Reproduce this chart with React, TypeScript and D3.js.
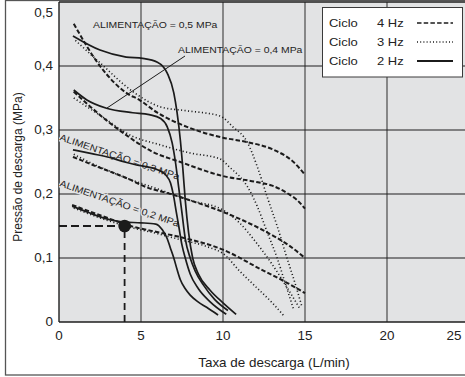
import React from "react";
import * as d3 from "d3";

type Pt = [number, number];

// Ciclo 2 Hz (linha cheia)
const solid02: Pt[] = [[0.8,0.181],[1.8,0.171],[2.8,0.162],[4,0.156],[5,0.155],[5.9,0.153],[6.3,0.144],[6.6,0.13],[6.8,0.115],[7.0,0.1],[7.2,0.082],[7.4,0.066],[7.7,0.052],[8,0.042],[8.5,0.031],[9,0.023],[9.7,0.011]];
const solid03: Pt[] = [[0.85,0.269],[2,0.263],[3.1,0.257],[4,0.25],[4.8,0.245],[6,0.238],[6.5,0.23],[6.8,0.217],[7.0,0.195],[7.15,0.172],[7.3,0.15],[7.5,0.12],[7.7,0.1],[8.0,0.075],[8.5,0.052],[9.2,0.032],[10.2,0.012]];
const solid04: Pt[] = [[0.9,0.3625],[1.7,0.347],[2.9,0.334],[4.5,0.327],[5.5,0.324],[6.2,0.318],[6.6,0.305],[6.9,0.28],[7.1,0.25],[7.3,0.21],[7.5,0.17],[7.7,0.13],[8.0,0.1],[8.3,0.08],[8.8,0.058],[9.5,0.035],[10.3,0.018]];
const solid05: Pt[] = [[0.85,0.447],[2.5,0.425],[4.1,0.414],[5.1,0.412],[6,0.406],[6.6,0.389],[7.0,0.358],[7.2,0.327],[7.4,0.284],[7.55,0.24],[7.7,0.19],[7.9,0.14],[8.15,0.1],[8.5,0.075],[9.2,0.05],[10,0.03],[10.8,0.012]];

// Ciclo 4 Hz (tracejado)
const dash02: Pt[] = [[0.8,0.183],[2.8,0.164],[4.5,0.149],[5.9,0.141],[7.5,0.132],[10,0.113],[12.4,0.081],[14,0.06],[15,0.045]];
const dash03: Pt[] = [[0.85,0.258],[2.1,0.245],[4.1,0.225],[5.4,0.21],[6.8,0.2],[8,0.19],[10,0.172],[12.4,0.144],[14,0.12],[15,0.1]];
const dash04: Pt[] = [[0.9,0.36],[2.9,0.315],[4.1,0.292],[5.7,0.266],[7.4,0.25],[10,0.228],[12,0.219],[13,0.213],[14,0.2],[14.5,0.191],[15,0.177]];
const dash05: Pt[] = [[0.9,0.466],[2.5,0.4],[4.1,0.358],[4.9,0.347],[6,0.327],[8,0.303],[10,0.288],[11.5,0.281],[13,0.27],[14.3,0.25],[15,0.23]];

// Ciclo 3 Hz (pontilhado)
const dot02: Pt[] = [[0.9,0.178],[2.8,0.16],[4.5,0.147],[6,0.138],[7.5,0.128],[9,0.118],[10.1,0.105],[11,0.08],[12,0.055],[13,0.03],[13.7,0.01]];
const dot03: Pt[] = [[0.9,0.262],[2,0.248],[4,0.226],[6,0.208],[8,0.19],[10,0.175],[11,0.155],[12,0.125],[13,0.09],[14,0.05],[14.7,0.02]];
const dot04: Pt[] = [[0.9,0.35],[2.5,0.323],[4.5,0.29],[6,0.278],[8,0.264],[9.8,0.255],[10.4,0.242],[11.5,0.211],[12.1,0.18],[12.7,0.14],[13.3,0.1],[13.8,0.06],[14.3,0.02]];
const dot05: Pt[] = [[1,0.44],[2.5,0.405],[4.5,0.36],[6.2,0.336],[7.8,0.33],[9.8,0.322],[10.6,0.305],[11.5,0.28],[12.1,0.242],[12.7,0.195],[13.3,0.15],[13.9,0.1],[14.4,0.06],[14.8,0.025]];

const solidSeries = [solid02, solid03, solid04, solid05];
const dashSeries = [dash02, dash03, dash04, dash05];
const dotSeries = [dot02, dot03, dot04, dot05];

const xTicks = [0, 5, 10, 15, 20, 25];
const yTicks = [0, 0.1, 0.2, 0.3, 0.4, 0.5];
const yTickLabels = ["0", "0,1", "0,2", "0,3", "0,4", "0,5"];

const legendRows = [
  { ciclo: "Ciclo", freq: "4 Hz", style: "dash" },
  { ciclo: "Ciclo", freq: "3 Hz", style: "dot" },
  { ciclo: "Ciclo", freq: "2 Hz", style: "solid" },
];

// ponto de exemplo
const examplePoint: Pt = [4, 0.15];

const W = 465;
const H = 377;
const FONT = "'Liberation Sans', Arial, Helvetica, sans-serif";
const INK = "#1b1b1b";
const BG = "#e2e3e4";

const x = d3.scaleLinear().domain([0, 25]).range([59, 59 + 25 * 16.4]);
const y = d3.scaleLinear().domain([0, 0.5]).range([322, 2]);

const line = d3
  .line<Pt>()
  .x((d) => x(d[0]))
  .y((d) => y(d[1]))
  .curve(d3.curveMonotoneX);

const styles: Record<string, { dash?: string; width: number; cap: string }> = {
  solid: { width: 1.7, cap: "butt" },
  dash: { dash: "4.5 2.2", width: 2, cap: "butt" },
  dot: { dash: "1.1 2.4", width: 1.6, cap: "butt" },
};

const SX = 1.12;

function T(props: {
  x: number;
  y: number;
  size: number;
  anchor?: "start" | "middle" | "end";
  children: React.ReactNode;
  fill?: string;
}) {
  return (
    <text
      transform={`translate(${props.x},${props.y}) scale(${SX},1)`}
      fontSize={props.size}
      fontFamily={FONT}
      textAnchor={props.anchor ?? "start"}
      fill={props.fill ?? "#222"}
    >
      {props.children}
    </text>
  );
}

export default function App() {
  const plotL = x(0);
  const plotR = 470;
  const plotT = y(0.5);
  const plotB = y(0);

  return (
    <svg
      width={W}
      height={H}
      style={{ position: "absolute", left: 0, top: 0, background: "#fff" }}
    >
      <defs>
        <clipPath id="plotClip">
          <rect x={plotL} y={plotT} width={plotR - plotL} height={plotB - plotT} />
        </clipPath>
      </defs>

      {/* outer frame */}
      <rect x={5.5} y={0.5} width={480} height={374.5} fill="#fff" stroke="#555" strokeWidth={1.3} />

      {/* plot background */}
      <rect x={plotL} y={plotT} width={plotR - plotL} height={plotB - plotT} fill={BG} />

      {/* vertical grid */}
      {xTicks
        .filter((t) => t > 0 && t < 25)
        .map((t) => (
          <line key={`vx${t}`} x1={x(t)} x2={x(t)} y1={plotT} y2={plotB} stroke="#7d7d7d" strokeWidth={1.8} />
        ))}
      {/* horizontal grid */}
      {yTicks
        .filter((t) => t > 0 && t < 0.5)
        .map((t) => (
          <line key={`hy${t}`} x1={plotL} x2={plotR} y1={y(t)} y2={y(t)} stroke="#1e1e1e" strokeWidth={1.1} />
        ))}

      {/* axes frame */}
      <line x1={plotL} x2={plotR} y1={plotT} y2={plotT} stroke="#1e1e1e" strokeWidth={1.4} />
      <line x1={plotL} x2={plotR} y1={plotB} y2={plotB} stroke="#1e1e1e" strokeWidth={1.4} />
      <line x1={plotL} x2={plotL} y1={plotT} y2={plotB} stroke="#1e1e1e" strokeWidth={1.4} />

      <g clipPath="url(#plotClip)">
        {/* example reading */}
        <line x1={plotL} x2={x(examplePoint[0])} y1={y(examplePoint[1])} y2={y(examplePoint[1])} stroke={INK} strokeWidth={1.8} strokeDasharray="8 4" />
        <line x1={x(examplePoint[0])} x2={x(examplePoint[0])} y1={plotB} y2={y(examplePoint[1])} stroke={INK} strokeWidth={1.8} strokeDasharray="7 5" />

        {/* curve labels */}
        <text transform={`translate(59,140) rotate(18.5) scale(${SX},1)`} fontSize={9.4} fontFamily={FONT} fill="#222" stroke={BG} strokeWidth={2.5} paintOrder="stroke">
          ALIMENTAÇÃO = 0,3 MPa
        </text>
        <text transform={`translate(59,186) rotate(19) scale(${SX},1)`} fontSize={9.4} fontFamily={FONT} fill="#222" stroke={BG} strokeWidth={2.5} paintOrder="stroke">
          ALIMENTAÇÃO = 0,2 MPa
        </text>

        {dotSeries.map((s, i) => (
          <path key={`dot${i}`} d={line(s) ?? ""} fill="none" stroke={INK} strokeWidth={styles.dot.width} strokeDasharray={styles.dot.dash} />
        ))}
        {dashSeries.map((s, i) => (
          <path key={`dash${i}`} d={line(s) ?? ""} fill="none" stroke={INK} strokeWidth={styles.dash.width} strokeDasharray={styles.dash.dash} />
        ))}
        {solidSeries.map((s, i) => (
          <path key={`solid${i}`} d={line(s) ?? ""} fill="none" stroke={INK} strokeWidth={styles.solid.width} />
        ))}

        <circle cx={x(examplePoint[0])} cy={y(examplePoint[1])} r={6.3} fill={INK} />

        {/* leader to 0,4 MPa label */}
        <line x1={107} y1={108} x2={185} y2={56} stroke={INK} strokeWidth={1} />
        <T x={93} y={28} size={9.3}>ALIMENTAÇÃO = 0,5 MPa</T>
        <T x={178} y={53} size={9.3}>ALIMENTAÇÃO = 0,4 MPa</T>
      </g>

      {/* legend */}
      <rect x={322.5} y={7.5} width={140} height={69.5} fill="#fff" stroke="#3a3a3a" strokeWidth={1} />
      {legendRows.map((r, i) => {
        const cy = 23 + i * 19;
        const st = styles[r.style];
        return (
          <g key={r.freq}>
            <T x={329} y={cy + 4.3} size={11.6}>{r.ciclo}</T>
            <T x={377} y={cy + 4.3} size={11.6}>{r.freq}</T>
            <line x1={417} x2={453} y1={cy} y2={cy} stroke={INK} strokeWidth={r.style === "solid" ? 1.8 : r.style === "dash" ? 1.5 : 1.3} strokeDasharray={r.style === "dash" ? "4.5 2.2" : r.style === "dot" ? "1 2.2" : undefined} />
          </g>
        );
      })}

      {/* tick labels */}
      {xTicks.map((t) => (
        <T key={`xt${t}`} x={Math.min(x(t), 454)} y={340} size={12} anchor="middle">
          {String(t)}
        </T>
      ))}
      {yTicks.map((t, i) => (
        <T key={`yt${t}`} x={53} y={Math.max(y(t), 13) + 4.2} size={12} anchor="end">
          {yTickLabels[i]}
        </T>
      ))}

      {/* axis titles */}
      <T x={274} y={367} size={12} anchor="middle">Taxa de descarga (L/min)</T>
      <text transform="translate(22,167) rotate(-90)" fontSize={12} fontFamily={FONT} textAnchor="middle" fill="#222">
        Pressão de descarga (MPa)
      </text>
    </svg>
  );
}
